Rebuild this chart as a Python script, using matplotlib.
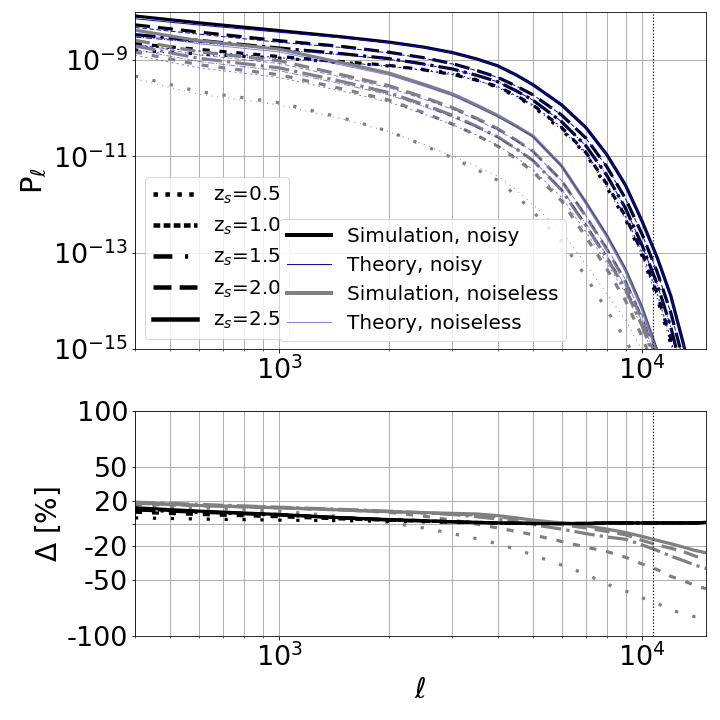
import numpy as np
import matplotlib
matplotlib.use('Agg')
import matplotlib.pyplot as plt
from matplotlib.lines import Line2D
from matplotlib.ticker import NullFormatter, NullLocator, FixedLocator

# multipoles
ell = [400, 600, 1000, 1500, 2000, 2500, 3000, 3500, 4000, 4500, 5000, 6000, 7000,
       8000, 9000, 10000, 11000, 12000, 13000, 14000, 15000]
z_labels = ['0.5', '1.0', '1.5', '2.0', '2.5']
ell_cut = 10700

# log10 of theory power spectrum, noisy
th_noisy_05 = [-8.81, -8.89, -8.97, -9.06, -9.13, -9.20, -9.27, -9.41, -9.57, -9.76, -9.96, -10.45, -10.95, -11.65, -12.32, -13.07, -13.95, -14.90, -16.0, -17.1, -18.3]
th_noisy_10 = [-8.70, -8.81, -8.95, -9.05, -9.12, -9.21, -9.30, -9.42, -9.55, -9.74, -9.93, -10.40, -10.92, -11.58, -12.25, -13.00, -13.85, -14.80, -15.9, -17.0, -18.2]
th_noisy_15 = [-8.52, -8.63, -8.78, -8.89, -8.98, -9.09, -9.19, -9.32, -9.45, -9.64, -9.83, -10.28, -10.78, -11.40, -12.08, -12.85, -13.65, -14.55, -15.6, -16.7, -17.9]
th_noisy_20 = [-8.32, -8.46, -8.63, -8.74, -8.85, -8.96, -9.08, -9.22, -9.36, -9.54, -9.72, -10.14, -10.62, -11.22, -11.88, -12.62, -13.40, -14.25, -15.25, -16.4, -17.6]
th_noisy_25 = [-8.14, -8.27, -8.42, -8.54, -8.64, -8.74, -8.85, -8.98, -9.12, -9.31, -9.51, -9.93, -10.40, -10.97, -11.60, -12.35, -13.10, -13.90, -14.90, -16.0, -17.2]

# log10 of theory power spectrum, noiseless
th_clean_05 = [-9.39, -9.71, -9.93, -10.23, -10.48, -10.75, -10.99, -11.21, -11.41, -11.70, -12.00, -12.56, -13.24, -13.86, -14.40, -15.03, -15.70, -16.40, -17.10, -17.80, -18.50]
th_clean_10 = [-8.90, -9.16, -9.36, -9.65, -9.87, -10.12, -10.34, -10.56, -10.77, -11.02, -11.27, -11.85, -12.57, -13.22, -13.84, -14.55, -15.33, -16.15, -17.0, -17.85, -18.8]
th_clean_15 = [-8.78, -9.03, -9.22, -9.50, -9.72, -9.96, -10.18, -10.40, -10.61, -10.85, -11.08, -11.68, -12.40, -13.06, -13.70, -14.43, -15.23, -16.08, -16.97, -17.9, -18.9]
th_clean_20 = [-8.66, -8.89, -9.07, -9.36, -9.57, -9.81, -10.02, -10.24, -10.45, -10.68, -10.90, -11.50, -12.23, -12.90, -13.56, -14.31, -15.14, -16.02, -16.94, -17.9, -19.0]
th_clean_25 = [-8.45, -8.66, -8.83, -9.11, -9.31, -9.54, -9.74, -9.97, -10.18, -10.39, -10.59, -11.20, -11.95, -12.63, -13.32, -14.10, -14.98, -15.91, -16.9, -17.9, -19.0]

# relative difference simulation vs theory [%], noisy
dlt_noisy_05 = [5, 4, 3, 2.5, 2, 1.5, 1, 0.7, 0.5, 0.2, 0, 0, 0, 0, 0.5, 0.5, 0.5, 0.5, 0.5, 0.5, 0.5]
dlt_noisy_10 = [10, 8, 6, 4, 3, 2, 1, 0.7, 0.5, 0.2, 0, 0, 0, 0.5, 0.5, 0.5, 0.5, 0.5, 0.5, 0.5, 1]
dlt_noisy_15 = [12, 10, 7.5, 5, 3, 2.2, 1.5, 1, 0.5, 0.2, 0, 0, 0, 0.5, 0.5, 0.5, 0.5, 0.5, 0.5, 0.5, 1]
dlt_noisy_20 = [13, 10.5, 8, 5, 3.5, 2.5, 1.5, 1, 0.5, 0.2, 0, 0, 0, 0.5, 0.5, 0.5, 0.5, 0.5, 0.5, 0.5, 1]
dlt_noisy_25 = [14, 11, 8, 5, 3.5, 2.5, 1.5, 1, 0.5, 0.2, 0, 0, 0, 0.5, 0.5, 0.5, 0.5, 0.5, 0.5, 0.5, 1]

# relative difference simulation vs theory [%], noiseless
dlt_clean_05 = [15, 14, 11, 6, 1, -4, -9, -13.5, -18, -23, -28, -37, -45, -54, -60, -66, -71, -77, -80, -83, -85]
dlt_clean_10 = [17, 16, 14, 12, 10, 6.5, 3, -0.5, -4, -7, -10, -16, -21, -25, -30, -36, -41, -47, -51, -55, -58]
dlt_clean_15 = [19, 17, 14.5, 12.5, 11, 9.5, 8, 6, 4, 1.5, -1, -5, -9, -12, -14, -19, -24, -29, -33, -37, -40]
dlt_clean_20 = [18, 16, 14, 12, 10.5, 9.5, 8.5, 7.5, 6, 4, 2, -1, -4, -7, -10, -15, -19, -22, -25, -29, -32]
dlt_clean_25 = [18.5, 16, 14, 12, 10.5, 9.7, 9, 8.5, 7, 5, 3, 0.5, -2, -5, -8, -11.5, -15, -18, -21, -24, -26]

th_noisy = [th_noisy_05, th_noisy_10, th_noisy_15, th_noisy_20, th_noisy_25]
th_clean = [th_clean_05, th_clean_10, th_clean_15, th_clean_20, th_clean_25]
dlt_noisy = [dlt_noisy_05, dlt_noisy_10, dlt_noisy_15, dlt_noisy_20, dlt_noisy_25]
dlt_clean = [dlt_clean_05, dlt_clean_10, dlt_clean_15, dlt_clean_20, dlt_clean_25]

# line styles used in the panels
styles = [dict(linestyle=(0, (1, 4.6))),
          dict(linestyle=(0, (2.2, 3.1))),
          dict(linestyle='-.'),
          dict(linestyle=(0, (4.7, 2.5))),
          dict(linestyle='-')]
# line styles used in the redshift legend
leg_styles = [dict(linestyle=':'),
              dict(linestyle=(0, (1.5, 0.75))),
              dict(linestyle=(0, (4.2, 2.8, 0.7, 2.8))),
              dict(linestyle=(0, (4.0, 1.8))),
              dict(linestyle='-')]

fig = plt.figure(figsize=(10, 10), dpi=72)
ax1 = fig.add_axes([135/720, 1-349/720, 571/720, 337/720])
ax2 = fig.add_axes([135/720, 1-636/720, 571/720, 225/720])

x = np.array(ell, dtype=float)
LW = 3.2
for i in range(5):
    tn = 10.0 ** np.array(th_noisy[i])
    tc = 10.0 ** np.array(th_clean[i])
    sn = tn * (1 + np.array(dlt_noisy[i]) / 100.0)
    sc = tc * (1 + np.array(dlt_clean[i]) / 100.0)
    st = styles[i]
    ax1.plot(x, sn, color='black', lw=LW, **st)
    ax1.plot(x, tn, color='blue', lw=1, **st)
    ax1.plot(x, sc, color='gray', lw=LW, **st)
    ax1.plot(x, tc, color='blue', alpha=0.5, lw=1, **st)
    ax2.plot(x, dlt_clean[i], color='gray', lw=LW, **st)
    ax2.plot(x, dlt_noisy[i], color='black', lw=LW, **st)

for ax in (ax1, ax2):
    ax.set_xscale('log')
    ax.set_xlim(400, 15000)
    ax.axvline(ell_cut, color='black', linestyle=':', lw=1.2)
    ax.grid(True, which='both', axis='x', color='#b0b0b0', lw=1)
    ax.grid(True, which='major', axis='y', color='#b0b0b0', lw=1)
    ax.xaxis.set_minor_formatter(NullFormatter())
    ax.tick_params(axis='both', which='major', labelsize=27)
    ax.set_axisbelow(True)

ax1.set_yscale('log')
ax1.set_ylim(1e-15, 1e-8)
ax1.yaxis.set_major_locator(FixedLocator([1e-15, 1e-13, 1e-11, 1e-9]))
ax1.yaxis.set_minor_locator(NullLocator())
ax1.set_ylabel(r'P$_\ell$', fontsize=29)

ax2.set_ylim(-100, 100)
yt = [100, 50, 20, 0, -20, -50, -100]
ax2.set_yticks(yt)
ax2.set_yticklabels(['100', '50', '20', '', '-20', '-50', '-100'])
ax2.set_ylabel(r'$\Delta$ [%]', fontsize=28)
ax2.set_xlabel(r'$\ell$', fontsize=28)

z_handles = [Line2D([], [], color='black', lw=4.5, **leg_styles[i]) for i in range(5)]
leg1 = ax1.legend(z_handles, ['z$_s$=' + z for z in z_labels], loc='lower left',
                  fontsize=20, handlelength=2.2)
ax1.add_artist(leg1)

kind_handles = [Line2D([], [], color='black', lw=4),
                Line2D([], [], color='blue', lw=1),
                Line2D([], [], color='gray', lw=4),
                Line2D([], [], color='blue', alpha=0.5, lw=1)]
kind_labels = ['Simulation, noisy', 'Theory, noisy', 'Simulation, noiseless', 'Theory, noiseless']
ax1.legend(kind_handles, kind_labels, loc='lower left', bbox_to_anchor=(0.252, 0.024),
           borderaxespad=0, fontsize=20, handlelength=2.2)

fig.savefig('out.png', dpi=72)
